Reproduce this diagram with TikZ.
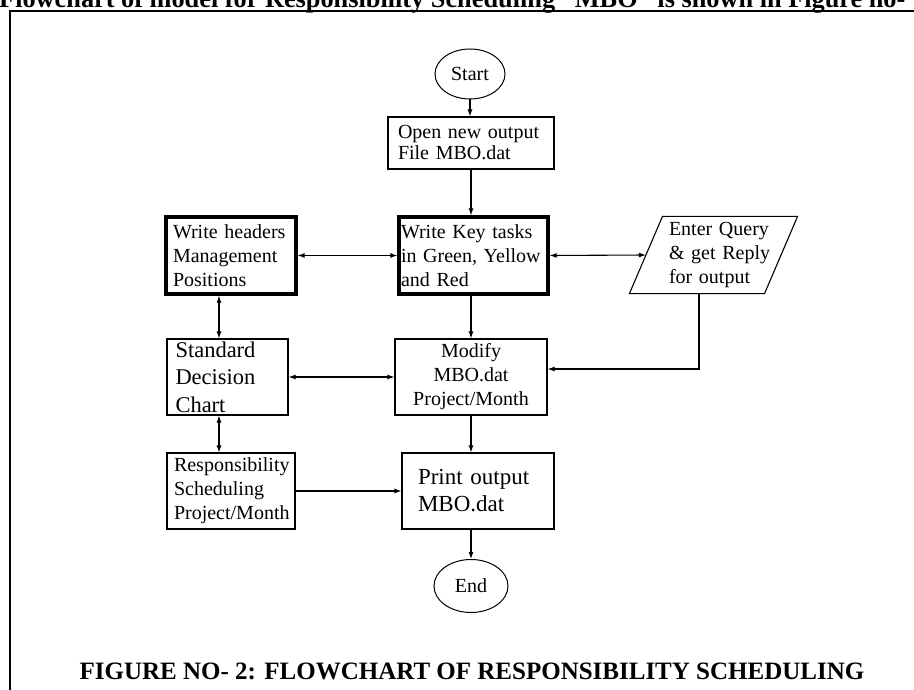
\documentclass[tikz,border=0pt]{standalone}
\usepackage{fontspec}
\setmainfont{Liberation Serif}
\usetikzlibrary{positioning}
\usetikzlibrary{arrows.meta}
\usetikzlibrary{shapes.geometric}
\hyphenpenalty=10000
\exhyphenpenalty=10000

\begin{document}
\begin{tikzpicture}[x=1pt,y=-1pt,
  box/.style={draw,line width=1.1pt,rectangle,inner sep=0pt,align=left,
    font=\fontsize{20}{24}\selectfont},
  keybox/.style={box,line width=3.2pt},
  term/.style={draw,line width=1pt,ellipse,inner sep=0pt,
    font=\fontsize{20}{22}\selectfont},
  flow/.style={-{Latex[length=7pt,width=5pt]},line width=1.1pt},
  both/.style={{Latex[length=7pt,width=5pt]}-{Latex[length=7pt,width=5pt]},line width=1.1pt}]
\useasboundingbox (0,0) rectangle (914,690);

% page frame and cut title
\draw[line width=2.4pt] (10,692) -- (10,11) -- (916,11);
\node[anchor=base west,inner sep=0pt,font=\bfseries\fontsize{26.3}{28}\selectfont]
  (title) at (-1,8) {Flowchart of model for Responsibility Scheduling “MBO” is shown in Figure no-};

\node[term,minimum width=70pt,minimum height=50pt] (start) at (470,74) {Start};
\node[box,minimum width=166pt,minimum height=52pt,text width=146pt,
  font=\fontsize{20}{21}\selectfont] (open) at (471,143)
  {Open new output\\File MBO.dat};
\node[keybox,minimum width=149pt,minimum height=77pt,text width=145pt] (key) at (473.5,255.5)
  {Write Key tasks\\in Green, Yellow\\and Red};
\node[keybox,minimum width=130pt,minimum height=77pt,text width=116pt] (head) at (231,255.5)
  {Write headers\\Management\\Positions};
\node[box,draw=none,minimum width=134pt,minimum height=76pt,text width=104pt] (query) at (721,255)
  {Enter Query\\\& get Reply\\for output};
\draw[line width=1.1pt] ([xshift=-24pt]query.south west) -- ([xshift=-24pt]query.south east)
  -- ([xshift=9pt]query.north east) -- ([xshift=9pt]query.north west) -- cycle;
\node[box,minimum width=121pt,minimum height=76pt,text width=104pt,
  font=\fontsize{22.5}{27.5}\selectfont] (chart) at (227.5,377)
  {Standard\\Decision\\Chart};
\node[box,minimum width=152pt,minimum height=76pt,text width=140pt,align=center] (modify) at (471,377)
  {Modify\\MBO.dat\\Project/Month};
\node[box,minimum width=128pt,minimum height=76pt,text width=114pt] (resp) at (231,491)
  {Responsibility\\Scheduling\\Project/Month};
\node[box,minimum width=152pt,minimum height=76pt,text width=120pt,
  font=\fontsize{23}{27}\selectfont] (print) at (478,491)
  {Print output\\MBO.dat};
\node[term,minimum width=74pt,minimum height=53pt] (end) at (471,586) {End};

\node[anchor=base,inner sep=0pt,font=\bfseries\fontsize{25}{30}\selectfont] (caption) at (472,679)
  {FIGURE NO- 2: FLOWCHART OF RESPONSIBILITY SCHEDULING};

% connectors
\draw[flow] (start) -- (start |- open.north);
\draw[flow] (open.south) -- (open.south |- key.north);
\draw[flow] (modify.south |- key.south) -- (modify.north);
\draw[flow] (modify.south) -- (modify.south |- print.north);
\draw[flow] (end.north |- print.south) -- (end.north);
\draw[both] (head.east) -- (head.east -| key.west);
\draw[both] (key.east) -- ([xshift=-7.5pt]query.west);
\draw[both] ([xshift=-12pt]head.south) -- ([xshift=-12pt]head.south |- chart.north);
\draw[both] ([xshift=-8.5pt]chart.south) -- ([xshift=-8.5pt]chart.south |- resp.north);
\draw[both] (chart.east) -- (chart.east -| modify.west);
\draw[flow] ([xshift=-22pt]query.south) |- ([yshift=8pt]modify.east);
\draw[flow] (resp.east) -- (resp.east -| print.west);
\end{tikzpicture}
\end{document}
